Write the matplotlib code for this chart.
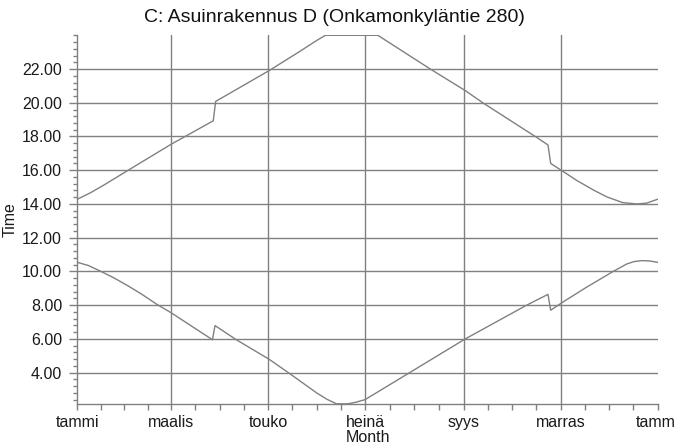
import numpy as np
import matplotlib
matplotlib.use("Agg")
import matplotlib.pyplot as plt
from matplotlib.ticker import FixedLocator, MultipleLocator, FuncFormatter

plt.rcParams['font.family'] = ['Liberation Sans', 'DejaVu Sans']

# day of year -> hours (sunset, upper curve)
sunset_day = [0, 8, 16, 32, 59, 85.5, 87, 120.5, 140, 150.5, 156, 189, 222,
              244, 255, 289, 296, 297.7, 304, 314, 324.5, 333, 343, 352, 358,
              365]
sunset_val = [14.28, 14.65, 15.08, 16.0, 17.54, 18.93, 20.08, 21.9, 23.05,
              23.69, 24.0, 24.0, 22.0, 20.72, 20.0, 17.94, 17.5, 16.4, 16.02,
              15.4, 14.83, 14.42, 14.08, 14.0, 14.05, 14.28]

# sunrise, lower curve
sunrise_day = [0, 7, 14, 23, 32, 41, 50, 59, 85, 86.6, 100, 120.5, 132.7,
               150.5, 157, 163, 170, 175, 181, 195, 209, 244, 282.6, 296,
               297.7, 304, 320, 337, 345.5, 350, 355, 360, 365]
sunrise_val = [10.54, 10.35, 10.04, 9.62, 9.14, 8.62, 8.05, 7.55, 5.95, 6.79,
               5.95, 4.8, 4.0, 2.8, 2.42, 2.15, 2.15, 2.24, 2.4, 3.2, 4.0, 6.0,
               8.0, 8.64, 7.7, 8.1, 9.05, 10.0, 10.44, 10.58, 10.64, 10.62,
               10.54]

month_pos = [0, 59, 120, 181, 243, 304, 365]
month_lbl = ['tammi', 'maalis', 'touko', 'heinä', 'syys', 'marras', 'tammi']
hour_ticks = [4, 6, 8, 10, 12, 14, 16, 18, 20, 22]

title = 'C: Asuinrakennus D (Onkamonkyläntie 280)'

grey = '#808080'

fig = plt.figure(figsize=(6.76, 4.48), dpi=100)
ax = fig.add_axes([77.3 / 676, 1 - 404 / 448, (657.7 - 77.3) / 676, (404 - 35.3) / 448])

for x in month_pos[1:-1]:
    ax.axvline(x, color=grey, lw=1.0, zorder=1)
for y in hour_ticks:
    ax.axhline(y, color=grey, lw=1.0, zorder=1)

ax.plot(sunset_day, sunset_val, color=grey, lw=1.0, zorder=2)
ax.plot(sunrise_day, sunrise_val, color=grey, lw=1.0, zorder=2)

ax.set_xlim(0, 365)
ax.set_ylim(2.14, 24.0)

ax.xaxis.set_major_locator(FixedLocator(month_pos))
ax.set_xticklabels(month_lbl)
minor_x = []
for a, b in zip(month_pos[:-1], month_pos[1:]):
    minor_x += list(np.linspace(a, b, 5)[1:-1])
ax.xaxis.set_minor_locator(FixedLocator(minor_x))

ax.yaxis.set_major_locator(FixedLocator(hour_ticks))
ax.yaxis.set_major_formatter(FuncFormatter(lambda v, p: '%.2f' % v))
ax.yaxis.set_minor_locator(MultipleLocator(0.4))

for s in ['top', 'right']:
    ax.spines[s].set_visible(False)
for s in ['left', 'bottom']:
    ax.spines[s].set_color(grey)
    ax.spines[s].set_linewidth(1.0)

ax.tick_params(axis='y', which='major', length=6, width=1, color=grey,
               labelsize=11.5, labelcolor='#1a1a1a', pad=5)
ax.tick_params(axis='y', which='minor', length=3, width=1, color=grey)
ax.tick_params(axis='x', which='both', length=4, width=1, color=grey,
               labelsize=11.5, labelcolor='#1a1a1a', pad=4)

ax.set_xlabel('Month', fontsize=11.5, color='#1a1a1a', labelpad=0)
ax.set_ylabel('Time', fontsize=11.5, color='#1a1a1a', labelpad=3)

fig.text(0.495, 1 - 18 / 448, title, ha='center', va='center', fontsize=14,
         color='#111111')

fig.savefig('out.png', dpi=100)
